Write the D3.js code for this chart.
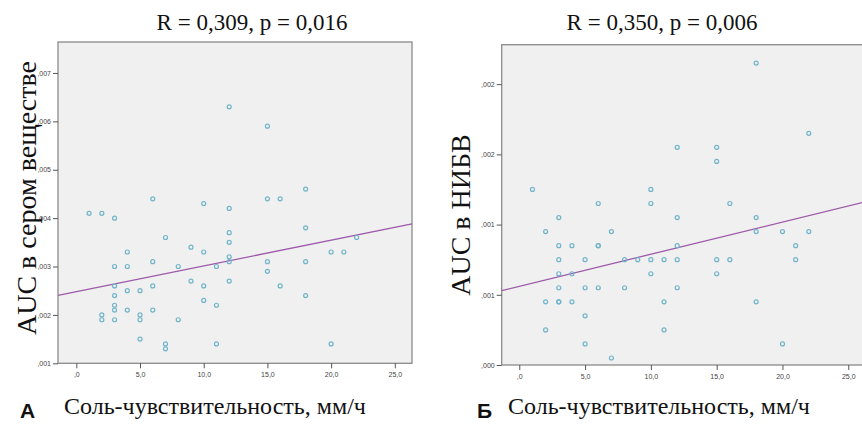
<!DOCTYPE html>
<html>
<head>
<meta charset="utf-8">
<script src="https://cdn.jsdelivr.net/npm/d3@7"></script>
<style>
  body { margin: 0; background: #fff; }
  .title, .xlabel, .ylabel { font-family: "Liberation Serif", "Times New Roman", serif; fill: #111; }
  .letter { font-family: "Liberation Sans", Arial, sans-serif; font-weight: bold; fill: #111; }
  .axis text { font-family: "Liberation Sans", Arial, sans-serif; font-size: 7px; fill: #444; }
  .axis path { display: none; }
  .axis line { stroke: #555; }
  .frame { fill: #f0f0f0; stroke: #8a8a8a; stroke-width: 1.3; }
  .dot { fill: none; stroke: #72b4ca; stroke-width: 1.2; }
  .fit { stroke: #9c5aa8; stroke-width: 1.3; fill: none; }
</style>
</head>
<body>
<svg id="chart" width="862" height="425"></svg>
<script>
// Panel A: salt sensitivity (mm/h) vs AUC in grey matter
const saltA = [1, 2, 3, 6, 10, 12, 15, 12, 15, 16, 18, 7, 4, 9, 10, 3, 4, 6, 8, 11,
  3, 4, 5, 6, 9, 10, 3, 3, 3, 4, 6, 10, 11, 2, 2, 3, 5, 5, 8, 5, 7, 7, 11,
  12, 12, 18, 12, 12, 15, 15, 18, 20, 21, 22, 12, 16, 18, 20];
const aucA = [0.0041, 0.0041, 0.0040, 0.0044, 0.0043, 0.0063, 0.0059, 0.0042, 0.0044, 0.0044,
  0.0046, 0.0036, 0.0033, 0.0034, 0.0033, 0.0030, 0.0030, 0.0031, 0.0030, 0.0030,
  0.0026, 0.0025, 0.0025, 0.0026, 0.0027, 0.0026, 0.0024, 0.0022, 0.0021, 0.0021,
  0.0021, 0.0023, 0.0022, 0.0020, 0.0019, 0.0019, 0.0020, 0.0019, 0.0019, 0.0015,
  0.0014, 0.0013, 0.0014, 0.0037, 0.0035, 0.0038, 0.0032, 0.0031, 0.0031, 0.0029,
  0.0031, 0.0033, 0.0033, 0.0036, 0.0027, 0.0026, 0.0024, 0.0014];
const fitA = { intercept: 0.002479, slope: 0.0000533 };
const yTicksA = [0.001, 0.002, 0.003, 0.004, 0.005, 0.006, 0.007];
const yTickLabelsA = [',001', ',002', ',003', ',004', ',005', ',006', ',007'];

// Panel Б: salt sensitivity (mm/h) vs AUC in NAWM
const saltB = [1, 6, 3, 10, 10, 18, 22, 12, 15, 15, 16, 12, 18, 2, 7, 3, 4, 6, 6, 3,
  5, 8, 9, 10, 3, 4, 10, 3, 5, 6, 8, 2, 3, 3, 4, 5, 2, 5, 7, 18, 20, 22, 12,
  21, 11, 12, 15, 16, 21, 15, 12, 11, 18, 11, 20];
const aucB = [0.00125, 0.00115, 0.00105, 0.00125, 0.00115, 0.00215, 0.00165, 0.00155, 0.00155, 0.00145,
  0.00115, 0.00105, 0.00105, 0.00095, 0.00095, 0.00085, 0.00085, 0.00085, 0.00085, 0.00075,
  0.00075, 0.00075, 0.00075, 0.00075, 0.00065, 0.00065, 0.00065, 0.00055, 0.00055, 0.00055,
  0.00055, 0.00045, 0.00045, 0.00045, 0.00045, 0.00035, 0.00025, 0.00015, 0.00005, 0.00095,
  0.00095, 0.00095, 0.00085, 0.00085, 0.00075, 0.00075, 0.00075, 0.00075, 0.00075, 0.00065,
  0.00055, 0.00045, 0.00045, 0.00025, 0.00015];
const fitB = { intercept: 0.000560, slope: 0.0000229 };
const yTicksB = [0, 0.0005, 0.001, 0.0015, 0.002];
const yTickLabelsB = [',000', ',001', ',001', ',002', ',002'];

const xTicks = [0, 5, 10, 15, 20, 25];
const xTickLabels = [',0', '5,0', '10,0', '15,0', '20,0', '25,0'];

const svg = d3.select('#chart');

const drawPanel = (opt) => {
  const x = d3.scaleLinear().domain(opt.xDomain).range([opt.left, opt.right]);
  const y = d3.scaleLinear().domain(opt.yDomain).range([opt.bottom, opt.top]);
  const g = svg.append('g');

  g.append('rect')
    .attr('class', 'frame')
    .attr('x', opt.left).attr('y', opt.top)
    .attr('width', opt.right - opt.left)
    .attr('height', opt.bottom - opt.top);

  // axes
  g.append('g')
    .attr('class', 'axis')
    .attr('transform', `translate(${opt.left}, 0)`)
    .call(d3.axisLeft(y).tickValues(opt.yTicks).tickSize(5).tickPadding(2)
      .tickFormat((_, i) => opt.yTickLabels[i]));
  g.append('g')
    .attr('class', 'axis')
    .attr('transform', `translate(0, ${opt.bottom})`)
    .call(d3.axisBottom(x).tickValues(xTicks).tickSize(5).tickPadding(4)
      .tickFormat((_, i) => xTickLabels[i]));

  // regression line
  const [x0, x1] = opt.xDomain;
  g.append('line')
    .attr('class', 'fit')
    .attr('x1', x(x0)).attr('y1', y(opt.fit.intercept + opt.fit.slope * x0))
    .attr('x2', x(x1)).attr('y2', y(opt.fit.intercept + opt.fit.slope * x1));

  // points
  g.selectAll('circle.dot')
    .data(opt.xs)
    .enter()
    .append('circle')
    .attr('class', 'dot')
    .attr('cx', d => x(d))
    .attr('cy', (_, i) => y(opt.ys[i]))
    .attr('r', 2);

  // texts
  g.append('text')
    .attr('class', 'title')
    .attr('x', opt.titleX).attr('y', 30)
    .attr('text-anchor', 'middle')
    .style('font-size', '23px')
    .text(opt.title);
  g.append('text')
    .attr('class', 'ylabel')
    .attr('transform', `translate(${opt.yLabelX}, ${opt.yLabelY}) rotate(-90)`)
    .attr('text-anchor', 'middle')
    .style('font-size', '28px')
    .text(opt.yLabel);
  g.append('text')
    .attr('class', 'xlabel')
    .attr('x', opt.xLabelX).attr('y', 414)
    .style('font-size', '24px')
    .text('Соль-чувствительность, мм/ч');
  g.append('text')
    .attr('class', 'letter')
    .attr('x', opt.letterX).attr('y', 418)
    .style('font-size', '21px')
    .text(opt.letter);
};

drawPanel({
  left: 58, right: 412, top: 42, bottom: 363.3,
  xDomain: [-1.44, 26.35], yDomain: [0.001, 0.00764],
  yTicks: yTicksA, yTickLabelsA: null, yTickLabels: yTickLabelsA,
  xs: saltA, ys: aucA, fit: fitA,
  title: 'R = 0,309, p = 0,016', titleX: 252,
  yLabel: 'AUC в сером веществе', yLabelX: 36, yLabelY: 198,
  xLabelX: 64, letter: 'А', letterX: 20
});

drawPanel({
  left: 501.7, right: 874.6, top: 44.7, bottom: 365,
  xDomain: [-1.337, 27], yDomain: [0, 0.002281],
  yTicks: yTicksB, yTickLabels: yTickLabelsB,
  xs: saltB, ys: aucB, fit: fitB,
  title: 'R = 0,350, p = 0,006', titleX: 662,
  yLabel: 'AUC в НИБВ', yLabelX: 470, yLabelY: 215,
  xLabelX: 508, letter: 'Б', letterX: 477
});
</script>
</body>
</html>
